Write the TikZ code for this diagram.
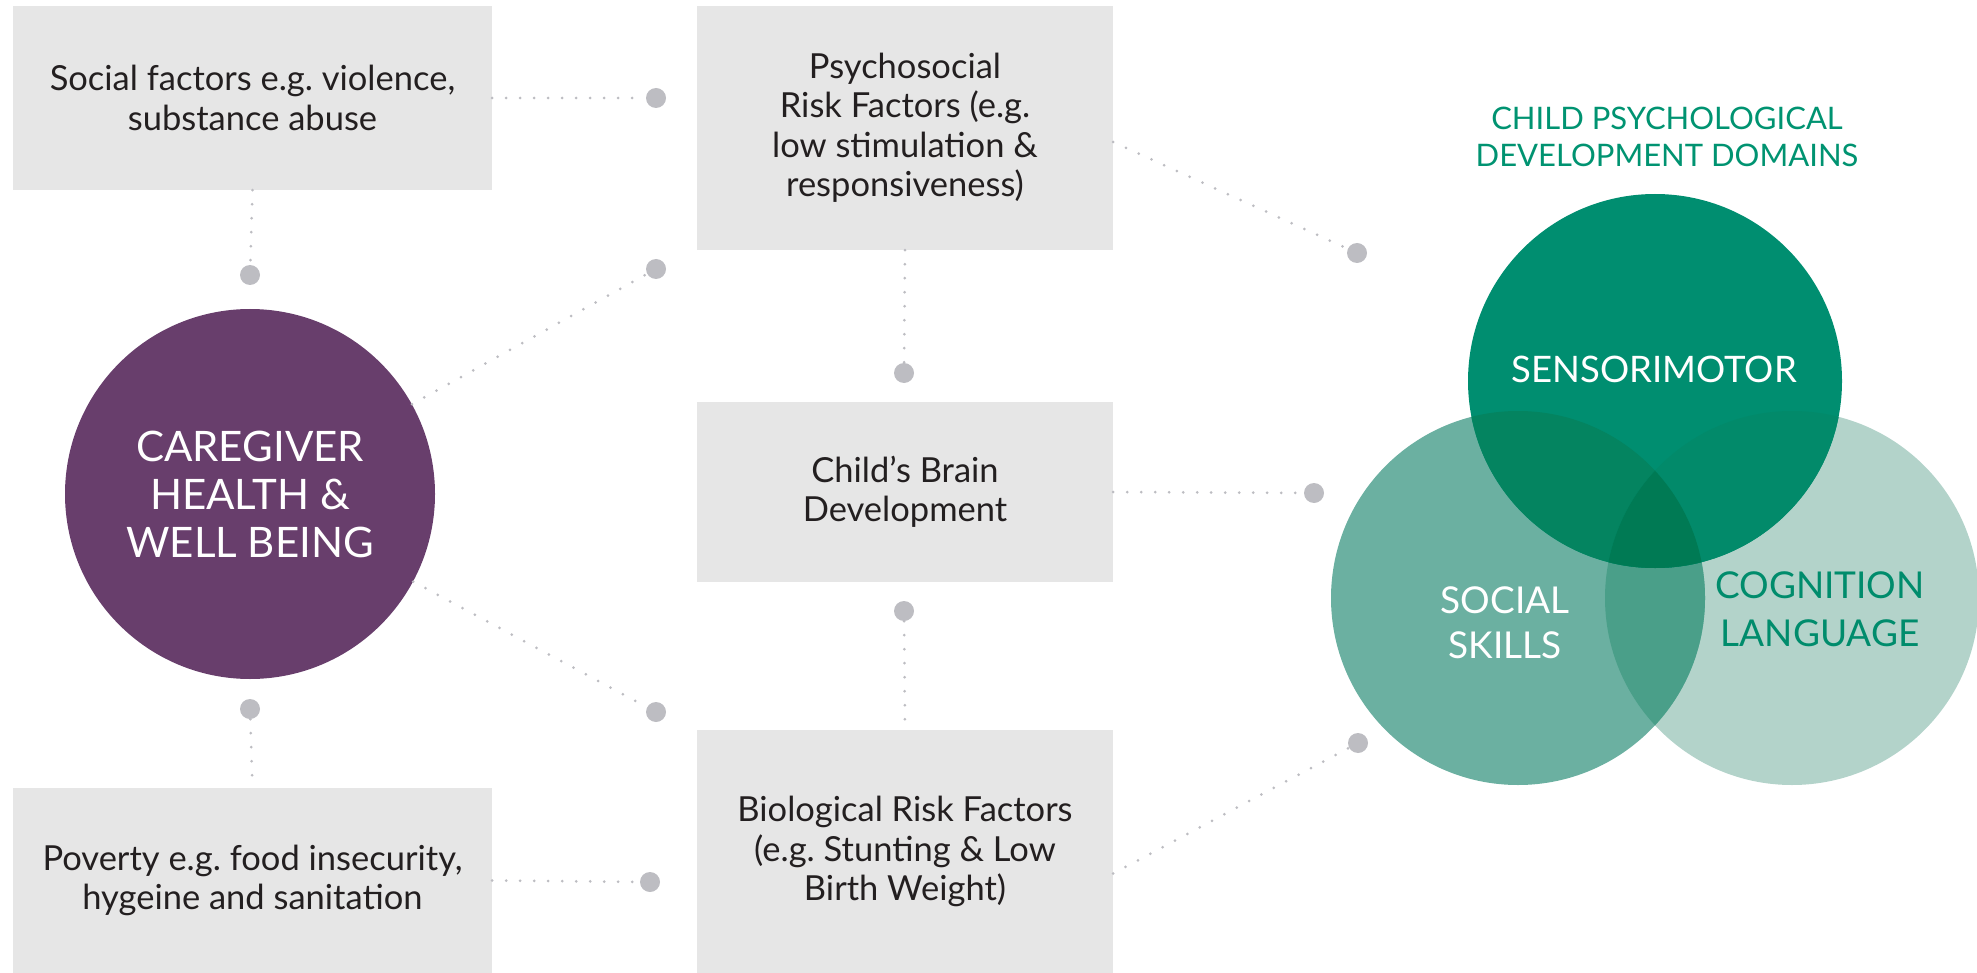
\documentclass[tikz,border=0pt]{standalone}
\usepackage{fontspec}
\setmainfont{Lato}
\frenchspacing
\definecolor{boxgray}{RGB}{230,230,230}
\definecolor{dotgray}{RGB}{189,189,194}
\definecolor{purp}{RGB}{104,62,108}
\definecolor{headcol}{RGB}{0,147,113}
\definecolor{sencol}{RGB}{0,142,112}
\definecolor{soccol}{RGB}{107,176,161}
\definecolor{cogcol}{RGB}{179,211,202}
\definecolor{sccol}{RGB}{74,159,137}
\definecolor{sensoc}{RGB}{4,132,96}
\definecolor{sencog}{RGB}{2,138,106}
\definecolor{midcol}{RGB}{0,122,84}
\definecolor{cogtext}{RGB}{0,140,108}
\definecolor{txt}{RGB}{35,31,32}
\begin{document}
\begin{tikzpicture}[x=1pt,y=-1pt,
  fbox/.style={fill=boxgray, inner sep=0pt, align=center, text=txt, font=\fontsize{34.5}{39.5}\selectfont},
  hub/.style={circle, fill=dotgray, inner sep=0pt, minimum size=20pt},
  link/.style={draw=dotgray, line width=3pt, line cap=round, dash pattern=on 0pt off 14pt},
  venn/.style={circle, inner sep=0pt, minimum size=374pt},
  vlabel/.style={align=center}]
\useasboundingbox (0,0) rectangle (1977,973);

% boxes
\node[fbox, minimum width=479pt, minimum height=184pt] (b1) at (252.5,98) {Social factors e.g. violence,\\substance abuse};
\node[fbox, minimum width=416pt, minimum height=244pt] (b2) at (905,128) {Psychosocial\\Risk Factors (e.g.\\low stimulation \&\\responsiveness)};
\node[fbox, minimum width=416pt, minimum height=180pt] (b3) at (905,492) {Child’s Brain\\Development};
\node[fbox, minimum width=416pt, minimum height=243pt] (b4) at (905,851.5) {Biological Risk Factors\\(e.g. Stunting \& Low\\Birth Weight)};
\node[fbox, minimum width=479pt, minimum height=185pt] (b5) at (252.5,880.5) {Poverty e.g. food insecurity,\\hygeine and sanitation};

% caregiver circle
\node[circle, fill=purp, inner sep=0pt, minimum size=370pt, text=white, align=center,
      font=\fontsize{42}{48}\selectfont] (cg) at (250,494) {CAREGIVER\\HEALTH \&\\WELL BEING};

% hubs
\node[hub] (d1) at (656,98) {};
\node[hub] (d2) at (250,275) {};
\node[hub] (d3) at (656,269) {};
\node[hub] (d4) at (904,373) {};
\node[hub] (d5) at (904,611) {};
\node[hub] (d6) at (656,712) {};
\node[hub] (d7) at (250,709) {};
\node[hub] (d8) at (650,882) {};
\node[hub] (d9) at (1357,253) {};
\node[hub] (d10) at (1314,493) {};
\node[hub] (d11) at (1358,743) {};

% connectors
\draw[link] (b1.east) -- (d1);
\draw[link] (b1.south) -- (d2);
\draw[link] (cg) -- (d3);
\draw[link] (cg) -- (d6);
\draw[link] (d7) -- (b5.north);
\draw[link] (b5.east) -- (d8);
\draw[link] (b2.south) -- (d4);
\draw[link] (d5) -- (b4.north);
\draw[link] ([yshift=-14pt]b2.east) -- (d9);
\draw[link] (b3.east) -- (d10);
\draw[link] ([yshift=-22pt]b4.east) -- (d11);

% Venn diagram
\node[venn, fill=cogcol] (cog) at (1792,598) {};
\node[venn, fill=soccol] (soc) at (1518,598) {};
\begin{scope}
  \clip (soc.center) circle (187pt);
  \fill[sccol] (cog.center) circle (187pt);
\end{scope}
\node[venn, fill=sencol] (sen) at (1655,381) {};
\begin{scope}
  \clip (sen.center) circle (187pt);
  \fill[sensoc] (soc.center) circle (187pt);
  \fill[sencog] (cog.center) circle (187pt);
  \clip (soc.center) circle (187pt);
  \fill[midcol] (cog.center) circle (187pt);
\end{scope}

\node[font=\fontsize{31}{37}\selectfont, text=headcol, align=center] (title) at (1667,136.5) {CHILD PSYCHOLOGICAL\\DEVELOPMENT DOMAINS};
\node[vlabel, text=white, font=\fontsize{36.5}{40}\selectfont] (senl) at (1654,369) {SENSORIMOTOR};
\node[vlabel, text=white, font=\fontsize{37}{45}\selectfont] (socl) at (1505,622.5) {SOCIAL\\SKILLS};
\node[vlabel, text=cogtext, font=\fontsize{37}{48}\selectfont] (cogl) at (1820,609) {COGNITION\\LANGUAGE};
\end{tikzpicture}
\end{document}
